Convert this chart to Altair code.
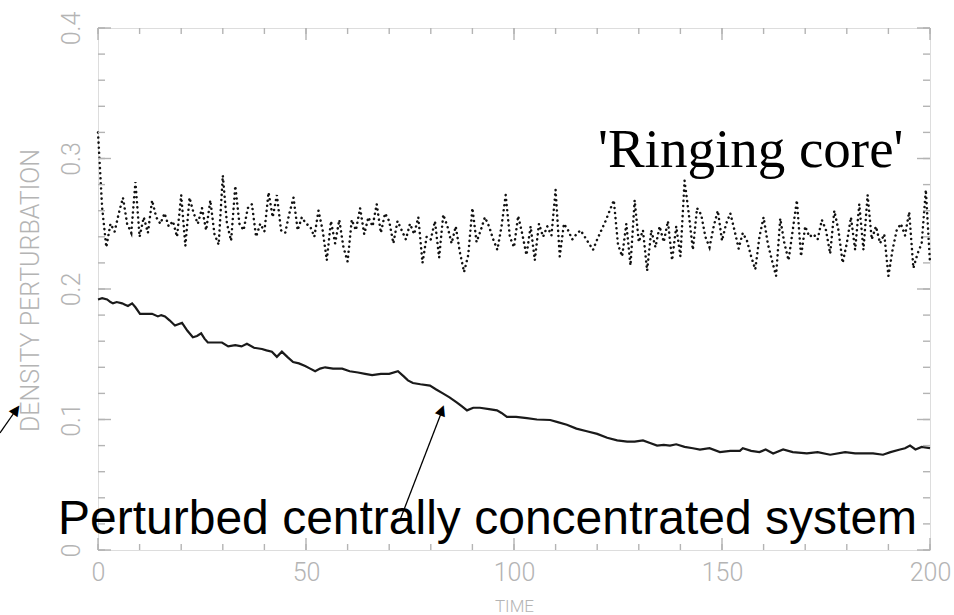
import altair as alt
import pandas as pd

# ---- data ----
ring_values = [
    0.320, 0.262, 0.232, 0.250, 0.244, 0.258, 0.270, 0.250, 0.243, 0.282,
    0.240, 0.255, 0.243, 0.268, 0.255, 0.250, 0.258, 0.248, 0.252, 0.240,
    0.272, 0.233, 0.270, 0.258, 0.250, 0.262, 0.245, 0.268, 0.242, 0.234,
    0.287, 0.250, 0.237, 0.279, 0.250, 0.245, 0.262, 0.265, 0.240, 0.250,
    0.244, 0.274, 0.255, 0.272, 0.245, 0.243, 0.258, 0.270, 0.245, 0.255,
    0.250, 0.248, 0.240, 0.260, 0.245, 0.222, 0.252, 0.235, 0.253, 0.232,
    0.221, 0.253, 0.245, 0.262, 0.242, 0.255, 0.248, 0.265, 0.243, 0.258,
    0.252, 0.235, 0.252, 0.245, 0.238, 0.250, 0.242, 0.255, 0.220, 0.240,
    0.238, 0.252, 0.224, 0.257, 0.248, 0.235, 0.248, 0.228, 0.213, 0.226,
    0.262, 0.236, 0.245, 0.255, 0.248, 0.238, 0.230, 0.248, 0.272, 0.240,
    0.232, 0.256, 0.242, 0.226, 0.248, 0.222, 0.250, 0.240, 0.248, 0.241,
    0.276, 0.225, 0.250, 0.245, 0.238, 0.242, 0.245, 0.240, 0.235, 0.230,
    0.238, 0.245, 0.252, 0.260, 0.268, 0.234, 0.225, 0.250, 0.218, 0.268,
    0.236, 0.245, 0.214, 0.245, 0.232, 0.248, 0.236, 0.252, 0.222, 0.248,
    0.225, 0.283, 0.258, 0.230, 0.262, 0.257, 0.240, 0.232, 0.248, 0.260,
    0.237, 0.250, 0.258, 0.245, 0.231, 0.243, 0.237, 0.225, 0.215, 0.240,
    0.255, 0.235, 0.222, 0.210, 0.254, 0.235, 0.222, 0.245, 0.268, 0.225,
    0.248, 0.240, 0.242, 0.238, 0.253, 0.245, 0.227, 0.260, 0.245, 0.220,
    0.235, 0.255, 0.230, 0.265, 0.230, 0.272, 0.238, 0.248, 0.235, 0.242,
    0.210, 0.230, 0.245, 0.250, 0.241, 0.259, 0.216, 0.227, 0.235, 0.276,
    0.220,
]
ring_time = list(range(len(ring_values)))

pert_time = [
    0, 1, 2.2, 3, 3.6, 4.5, 5.8, 6.5, 7.2, 8.2, 9, 10.1, 11.5, 13, 14.4, 15.2,
    16.1, 17.2, 18.5, 19.3, 20.2, 21.5, 22.8, 23.8, 24.8, 25.6, 26.4, 28, 29.8,
    31.3, 33, 34.5, 35.8, 37.5, 39.4, 40.5, 41.8, 43, 44.2, 45.5, 46.9, 48.3,
    49.8, 51, 52.2, 53.4, 54.6, 56.5, 58.7, 60.5, 62.5, 64.2, 65.9, 68, 70,
    72.1, 73.5, 74.5, 75.7, 77.5, 79.8, 81.3, 82.9, 84.5, 86.3, 87.5, 88.7,
    90.2, 91.8, 94, 95.9, 97, 98.3, 100.5, 103.1, 105.5, 108.7, 110.5, 112.7,
    115, 117.5, 120, 122.4, 124.8, 127.2, 129, 131, 132.7, 134.4, 136, 137.5,
    139, 141, 143, 144.7, 147, 149.5, 152, 154.3, 155, 157, 159, 160.5, 162.3,
    164.7, 167, 170.4, 173, 176, 179.6, 182, 184, 186.3, 188.7, 190.5, 192.8,
    194, 195.2, 196.5, 198, 200,
]
pert_values = [
    0.192, 0.193, 0.192, 0.190, 0.189, 0.190, 0.189, 0.188, 0.187, 0.189, 0.186,
    0.181, 0.181, 0.181, 0.179, 0.180, 0.179, 0.176, 0.172, 0.173, 0.174, 0.168,
    0.163, 0.164, 0.166, 0.162, 0.159, 0.159, 0.159, 0.156, 0.157, 0.156, 0.158,
    0.155, 0.154, 0.153, 0.152, 0.148, 0.152, 0.148, 0.144, 0.143, 0.141, 0.139,
    0.137, 0.139, 0.140, 0.139, 0.139, 0.137, 0.136, 0.135, 0.134, 0.135, 0.135,
    0.137, 0.133, 0.130, 0.128, 0.127, 0.126, 0.123, 0.120, 0.117, 0.113, 0.110,
    0.107, 0.109, 0.109, 0.108, 0.107, 0.105, 0.102, 0.102, 0.101, 0.100, 0.0996,
    0.098, 0.096, 0.093, 0.091, 0.089, 0.086, 0.084, 0.083, 0.083, 0.084, 0.082,
    0.080, 0.0805, 0.080, 0.081, 0.079, 0.078, 0.077, 0.078, 0.075, 0.076, 0.076,
    0.078, 0.076, 0.075, 0.077, 0.074, 0.077, 0.075, 0.074, 0.075, 0.073, 0.075,
    0.074, 0.074, 0.074, 0.073, 0.075, 0.077, 0.078, 0.080, 0.077, 0.079, 0.078,
]

x_major_ticks = [0, 50, 100, 150, 200]
x_minor_ticks = list(range(0, 201, 10))
y_major_ticks = [0.0, 0.1, 0.2, 0.3, 0.4]
y_minor_ticks = [i / 50 for i in range(0, 21)]

ring_df = pd.DataFrame({"t": ring_time, "v": ring_values})
pert_df = pd.DataFrame({"t": pert_time, "v": pert_values})

W, H = 832, 522
GRAY = "#b4b4b4"
FONT = "Roboto"

xs = alt.Scale(domain=[0, 200], nice=False, zero=False)
ys = alt.Scale(domain=[0, 0.4], nice=False)

x_axis = alt.Axis(
    values=x_major_ticks, ticks=False, grid=False, domain=False,
    labelFont=FONT, labelFontWeight=300, labelFontSize=25, labelColor=GRAY,
    labelPadding=10, labelBaseline="top", labelFlush=False,
    title="TIME", titleFont=FONT, titleFontWeight=300, titleFontSize=17,
    titleColor=GRAY, titleX=W / 2, titleY=56, titleBaseline="middle",
)
y_axis = alt.Axis(
    values=y_major_ticks, ticks=False, grid=False, domain=False, format=".1~f",
    labelFont=FONT, labelFontWeight=300, labelFontSize=25, labelColor=GRAY,
    labelAngle=270, labelAlign="center", labelBaseline="bottom",
    labelPadding=14, labelFlush=False,
    title="DENSITY PERTURBATION", titleFont=FONT, titleFontWeight=300,
    titleFontSize=25, titleColor=GRAY, titleAngle=270, titleX=-68,
    titleY=H / 2 + 1, titleAlign="center", titleBaseline="middle",
)

X = alt.X("t:Q", scale=xs, axis=x_axis)
Y = alt.Y("v:Q", scale=ys, axis=y_axis)

ring = alt.Chart(ring_df).mark_line(
    color="#111111", strokeWidth=2.5, strokeDash=[0.1, 5.0], strokeCap="round"
).encode(x=X, y=Y)

pert = alt.Chart(pert_df).mark_line(color="#1a1a1a", strokeWidth=2.2).encode(x=X, y=Y)


def xticks(vals, length, top):
    df = pd.DataFrame({"t": vals})
    if top:
        enc = dict(y=alt.value(0), y2=alt.value(length))
    else:
        enc = dict(y=alt.value(H), y2=alt.value(H - length))
    return alt.Chart(df).mark_rule(color=GRAY, strokeWidth=1.4).encode(x=X, **enc)


def yticks(vals, length, right):
    df = pd.DataFrame({"v": vals})
    if right:
        enc = dict(x=alt.value(W), x2=alt.value(W - length))
    else:
        enc = dict(x=alt.value(0), x2=alt.value(length))
    return alt.Chart(df).mark_rule(color=GRAY, strokeWidth=1.4).encode(y=Y, **enc)


ticks = [
    xticks(x_minor_ticks, 6, False), xticks(x_major_ticks, 12, False),
    xticks(x_minor_ticks, 6, True), xticks(x_major_ticks, 12, True),
    yticks(y_minor_ticks, 7, False), yticks(y_major_ticks, 13, False),
    yticks(y_minor_ticks, 7, True), yticks(y_major_ticks, 13, True),
]

one = pd.DataFrame({"k": [1]})

ring_label = alt.Chart(one).mark_text(
    text="'Ringing core'", font="Liberation Serif", fontSize=55, align="left",
    baseline="alphabetic", color="black",
).encode(x=alt.value(500), y=alt.value(139))

pert_label = alt.Chart(one).mark_text(
    text="Perturbed centrally concentrated system", font="Liberation Sans",
    fontSize=48, align="left", baseline="alphabetic", color="black",
).encode(x=alt.value(-40), y=alt.value(506))

line1 = alt.Chart(one).mark_rule(color="black", strokeWidth=1.3).encode(
    x=alt.value(-98), x2=alt.value(-82), y=alt.value(405), y2=alt.value(382)
)
head1 = alt.Chart(one).mark_text(
    text="▲", font="DejaVu Sans", fontSize=14, angle=35, align="center",
    baseline="middle", color="black",
).encode(x=alt.value(-81.5), y=alt.value(381.5))

line2 = alt.Chart(one).mark_rule(color="black", strokeWidth=1.3).encode(
    x=alt.value(302), x2=alt.value(344), y=alt.value(492), y2=alt.value(383)
)
head2 = alt.Chart(one).mark_text(
    text="▲", font="DejaVu Sans", fontSize=14, angle=21, align="center",
    baseline="middle", color="black",
).encode(x=alt.value(344), y=alt.value(382))

chart = alt.layer(
    ring, pert, *ticks, ring_label, pert_label, line1, head1, line2, head2
).properties(
    width=W, height=H,
    autosize=alt.AutoSizeParams(type="none"),
    padding={"left": 98, "top": 28, "right": 24, "bottom": 65},
).configure_view(stroke=GRAY, strokeWidth=1.6).configure(background="white")

chart.save("out.html", embed_options={"renderer": "svg", "actions": False})
